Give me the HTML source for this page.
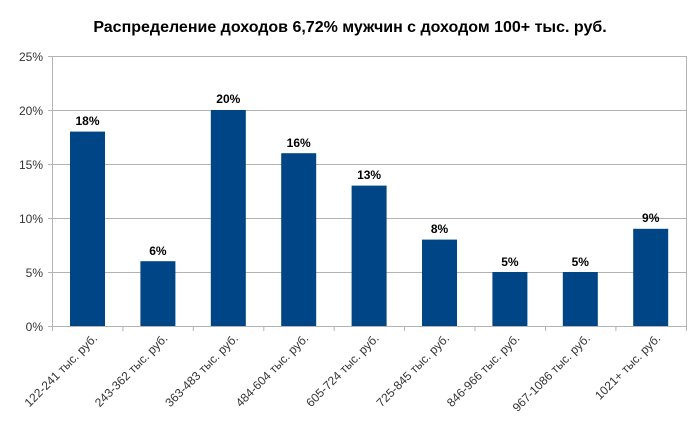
<!DOCTYPE html>
<html><head><meta charset="utf-8"><style>
body{margin:0;background:#fff}
svg{display:block;font-family:"Liberation Sans",sans-serif}
</style></head><body>
<svg width="700" height="426" viewBox="0 0 700 426">
<text x="350" y="32" text-anchor="middle" font-size="16" font-weight="bold" fill="#000">Распределение доходов 6,72% мужчин с доходом 100+ тыс. руб.</text>
<g stroke="#b3b3b3" stroke-width="1">
<line x1="48" y1="56.5" x2="686" y2="56.5"/>
<line x1="48" y1="110.5" x2="686" y2="110.5"/>
<line x1="48" y1="164.5" x2="686" y2="164.5"/>
<line x1="48" y1="218.5" x2="686" y2="218.5"/>
<line x1="48" y1="272.5" x2="686" y2="272.5"/>
<line x1="48" y1="326.5" x2="686" y2="326.5"/>
<line x1="52.5" y1="56" x2="52.5" y2="327"/>
<line x1="686.5" y1="56" x2="686.5" y2="327"/>
<line x1="122.9" y1="326" x2="122.9" y2="331"/>
<line x1="193.3" y1="326" x2="193.3" y2="331"/>
<line x1="263.8" y1="326" x2="263.8" y2="331"/>
<line x1="334.2" y1="326" x2="334.2" y2="331"/>
<line x1="404.6" y1="326" x2="404.6" y2="331"/>
<line x1="475" y1="326" x2="475" y2="331"/>
<line x1="545.5" y1="326" x2="545.5" y2="331"/>
<line x1="615.9" y1="326" x2="615.9" y2="331"/>
<line x1="52.5" y1="326" x2="52.5" y2="331"/>
<line x1="686.5" y1="326" x2="686.5" y2="331"/>
</g>
<g font-size="12" fill="#333" text-anchor="end">
<text x="43" y="61">25%</text>
<text x="43" y="115">20%</text>
<text x="43" y="169">15%</text>
<text x="43" y="223">10%</text>
<text x="43" y="277">5%</text>
<text x="43" y="331">0%</text>
</g>
<g fill="#004586">
<rect x="70" y="131.6" width="35" height="194.4"/>
<rect x="140.4" y="261.2" width="35" height="64.8"/>
<rect x="210.8" y="110" width="35" height="216"/>
<rect x="281.2" y="153.2" width="35" height="172.8"/>
<rect x="351.6" y="185.6" width="35" height="140.4"/>
<rect x="422" y="239.6" width="35" height="86.4"/>
<rect x="492.4" y="272" width="35" height="54"/>
<rect x="562.8" y="272" width="35" height="54"/>
<rect x="633.2" y="228.8" width="35" height="97.2"/>
</g>
<g font-size="12" font-weight="bold" fill="#000" text-anchor="middle">
<text x="87.5" y="125">18%</text>
<text x="157.9" y="255">6%</text>
<text x="228.3" y="103">20%</text>
<text x="298.7" y="147">16%</text>
<text x="369.1" y="179">13%</text>
<text x="439.5" y="233">8%</text>
<text x="509.9" y="266">5%</text>
<text x="580.3" y="266">5%</text>
<text x="650.7" y="222">9%</text>
</g>
<g font-size="12" fill="#333" text-anchor="end">
<text transform="translate(98,339) rotate(-45)">122-241 тыс. руб.</text>
<text transform="translate(168.4,339) rotate(-45)">243-362 тыс. руб.</text>
<text transform="translate(238.8,339) rotate(-45)">363-483 тыс. руб.</text>
<text transform="translate(309.2,339) rotate(-45)">484-604 тыс. руб.</text>
<text transform="translate(379.6,339) rotate(-45)">605-724 тыс. руб.</text>
<text transform="translate(450,339) rotate(-45)">725-845 тыс. руб.</text>
<text transform="translate(520.4,339) rotate(-45)">846-966 тыс. руб.</text>
<text transform="translate(590.8,339) rotate(-45)">967-1086 тыс. руб.</text>
<text transform="translate(661.2,339) rotate(-45)">1021+ тыс. руб.</text>
</g>
</svg>
</body></html>
